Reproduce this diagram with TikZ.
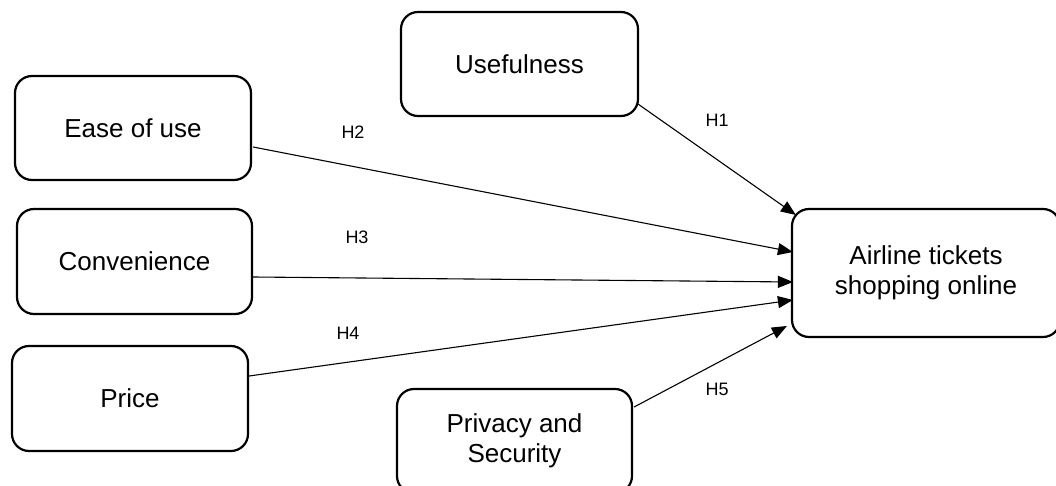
\documentclass[tikz,border=0pt]{standalone}
\usepackage{fontspec}
\setmainfont{Liberation Sans}
\usetikzlibrary{arrows.meta,calc}

\tikzset{
  factor/.style={draw=black, line width=2.2pt, rounded corners=17pt, fill=white,
    align=center, inner sep=0pt, font=\fontsize{26}{30}\selectfont},
  link/.style={line width=1.1pt, -{Triangle[length=15pt,width=12pt]}},
  hyp/.style={font=\fontsize{18}{20}\selectfont, inner sep=0pt}
}

\begin{document}
\begin{tikzpicture}[x=1pt,y=-1pt]
  \useasboundingbox (0,0) rectangle (1056,486);
  \clip (0,0) rectangle (1056,486);

  % factor boxes
  \node[factor, minimum width=237pt, minimum height=104pt] (use)   at (519.5,64)  {Usefulness};
  \node[factor, minimum width=236pt, minimum height=104pt] (ease)  at (133,128)   {Ease of use};
  \node[factor, minimum width=235pt, minimum height=105pt] (conv)  at (134.5,261.5) {Convenience};
  \node[factor, minimum width=236pt, minimum height=105pt] (price) at (130,398.5) {Price};
  \node[factor, minimum width=235pt, minimum height=104pt] (priv)  at (514.5,441) {Privacy and\\Security};
  \node[factor, minimum width=268pt, minimum height=128pt] (air)   at (926,273)   {Airline tickets\\shopping online};

  % hypothesised paths
  \draw[link] ($(use.south east)+(-1,-13)$)  -- ($(air.west)+(5,-58)$);
  \draw[link] ($(ease.east)+(1,19)$)         -- ($(air.west)+(2,-21)$);
  \draw[link] ($(conv.east)+(0,15.5)$)       -- ($(air.west)+(2,9)$);
  \draw[link] ($(price.east)+(0,-22.5)$)     -- ($(air.west)+(2,27)$);
  \draw[link] ($(priv.east)+(1,-34)$)        -- ($(air.west)+(-4,53)$);

  % path labels
  \node[hyp] (h1) at (717,120) {H1};
  \node[hyp] (h2) at (353,132) {H2};
  \node[hyp] (h3) at (357,237) {H3};
  \node[hyp] (h4) at (348,333) {H4};
  \node[hyp] (h5) at (717,389) {H5};
\end{tikzpicture}
\end{document}
